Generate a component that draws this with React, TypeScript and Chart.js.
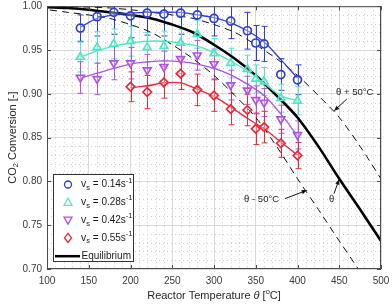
import React, { useEffect, useRef } from "react";
import { Chart, registerables } from "chart.js";

Chart.register(...registerables);

// ---- data ----
const temps = [140, 160, 180, 200, 220, 240, 260, 280, 300, 320, 340, 350, 360, 380, 400];
const conv014 = [0.975, 0.988, 0.993, 0.989, 0.992, 0.991, 0.992, 0.99, 0.986, 0.983, 0.972, 0.958, 0.957, 0.922, 0.916];
const err014 = [0.015, 0.022, 0.025, 0.025, 0.025, 0.025, 0.024, 0.022, 0.02, 0.02, 0.021, 0.02, 0.02, 0.018, 0.017];
const conv028 = [0.942, 0.953, 0.957, 0.96, 0.953, 0.9545, 0.958, 0.968, 0.946, 0.935, 0.928, 0.917, 0.914, 0.895, 0.892];
const err028 = [0.017, 0.018, 0.017, 0.017, 0.017, 0.017, 0.016, 0.016, 0.017, 0.017, 0.016, 0.016, 0.016, 0.016, 0.016];
const conv042 = [0.9186, 0.917, 0.935, 0.935, 0.927, 0.9307, 0.94, 0.944, 0.934, 0.91, 0.904, 0.893, 0.89, 0.871, 0.853];
const err042 = [0.018, 0.018, 0.019, 0.018, 0.018, 0.018, 0.017, 0.017, 0.017, 0.017, 0.016, 0.016, 0.016, 0.016, 0.016];
const tempsRed = [200, 220, 240, 260, 280, 300, 320, 340, 350, 360, 380, 400];
const conv055 = [0.908, 0.902, 0.913, 0.923, 0.9045, 0.898, 0.8826, 0.8815, 0.86, 0.862, 0.8435, 0.8295];
const err055 = [0.017, 0.019, 0.018, 0.018, 0.018, 0.018, 0.018, 0.018, 0.018, 0.018, 0.016, 0.015];

const fitTemps = [140, 160, 180, 200, 220, 240, 260, 280, 300, 320, 340, 360, 380, 400];
const fit014 = [0.976, 0.986, 0.99, 0.992, 0.993, 0.993, 0.993, 0.99, 0.987, 0.981, 0.972, 0.959, 0.939, 0.918];
const fit028 = [0.942, 0.949, 0.9545, 0.958, 0.96, 0.96, 0.958, 0.9545, 0.947, 0.9375, 0.926, 0.912, 0.898, 0.892];
const fit042 = [0.918, 0.9235, 0.929, 0.934, 0.9364, 0.9375, 0.9367, 0.934, 0.929, 0.9216, 0.911, 0.898, 0.877, 0.852];
const fitTempsRed = [200, 220, 240, 260, 280, 300, 320, 340, 360, 380, 400];
const fit055 = [0.907, 0.909, 0.9125, 0.9125, 0.9053, 0.897, 0.885, 0.872, 0.86, 0.845, 0.83];

const eqTemps = [50, 75, 100, 125, 150, 175, 200, 225, 250, 275, 300, 325, 350, 375, 400, 425, 450, 475, 500, 525, 550];
const eqConv = [1.0, 0.9995, 0.999, 0.998, 0.996, 0.993, 0.99, 0.986, 0.979, 0.97, 0.956, 0.94, 0.921, 0.898, 0.873, 0.84, 0.803, 0.768, 0.732, 0.697, 0.662];
const thetaShift = 50;

const xTicks = [100, 150, 200, 250, 300, 350, 400, 450, 500];
const yTicks = [0.7, 0.75, 0.8, 0.85, 0.9, 0.95, 1];

const FONT = "'Liberation Sans', Arial, sans-serif";
const BLUE = "#2b3fd6";
const CYAN = "#4fe6c6";
const PURPLE = "#b052e6";
const RED = "#ec2838";

const pts = (xs: number[], ys: number[]) => xs.map((x, i) => ({ x, y: ys[i] }));

type Part = { t: string; size: number; dy?: number; italic?: boolean };
function richWidth(ctx: CanvasRenderingContext2D, parts: Part[]) {
  let w = 0;
  for (const p of parts) {
    ctx.font = `${p.italic ? "italic " : ""}${p.size}px ${FONT}`;
    w += ctx.measureText(p.t).width;
  }
  return w;
}
function drawRich(ctx: CanvasRenderingContext2D, parts: Part[], x: number, y: number) {
  let cx = x;
  ctx.textBaseline = "middle";
  ctx.textAlign = "left";
  for (const p of parts) {
    ctx.font = `${p.italic ? "italic " : ""}${p.size}px ${FONT}`;
    ctx.fillText(p.t, cx, y + (p.dy || 0));
    cx += ctx.measureText(p.t).width;
  }
}

const overlayPlugin = {
  id: "overlay",
  beforeDatasetsDraw(chart: any) {
    const { ctx, chartArea: a, scales } = chart;
    const x = scales.x, y = scales.y;
    ctx.save();
    // minor grid
    ctx.strokeStyle = "#cfcfcf";
    ctx.lineWidth = 1;
    ctx.setLineDash([1, 3]);
    for (let v = 100; v <= 500; v += 10) {
      if (v % 50 === 0) continue;
      const px = Math.round(x.getPixelForValue(v)) + 0.5;
      ctx.beginPath(); ctx.moveTo(px, a.top); ctx.lineTo(px, a.bottom); ctx.stroke();
    }
    for (let k = 70; k <= 100; k++) {
      if (k % 5 === 0) continue;
      const py = Math.round(y.getPixelForValue(k / 100)) + 0.5;
      ctx.beginPath(); ctx.moveTo(a.left, py); ctx.lineTo(a.right, py); ctx.stroke();
    }
    ctx.setLineDash([]);
    // error bars
    ctx.beginPath(); ctx.rect(a.left, a.top, a.right - a.left, a.bottom - a.top); ctx.clip();
    chart.data.datasets.forEach((ds: any) => {
      if (!ds.errors) return;
      ctx.strokeStyle = ds.errColor;
      ctx.lineWidth = 1;
      ds.data.forEach((p: any, j: number) => {
        const px = Math.round(x.getPixelForValue(p.x)) + 0.5;
        const yt = y.getPixelForValue(p.y + ds.errors[j]);
        const yb = y.getPixelForValue(p.y - ds.errors[j]);
        ctx.beginPath();
        ctx.moveTo(px, yt); ctx.lineTo(px, yb);
        ctx.moveTo(px - 3, yt); ctx.lineTo(px + 3, yt);
        ctx.moveTo(px - 3, yb); ctx.lineTo(px + 3, yb);
        ctx.stroke();
      });
    });
    ctx.restore();
  },
  afterDraw(chart: any) {
    const { ctx, chartArea: a, scales } = chart;
    const x = scales.x, y = scales.y;
    ctx.save();
    // axes box + inward ticks
    ctx.strokeStyle = "#4a4a4a";
    ctx.lineWidth = 1;
    ctx.strokeRect(a.left + 0.5, a.top + 0.5, a.right - a.left - 1, a.bottom - a.top - 1);
    ctx.beginPath();
    xTicks.forEach((v) => {
      const px = Math.round(x.getPixelForValue(v)) + 0.5;
      ctx.moveTo(px, a.bottom); ctx.lineTo(px, a.bottom - 4);
      ctx.moveTo(px, a.top); ctx.lineTo(px, a.top + 4);
    });
    yTicks.forEach((v) => {
      const py = Math.round(y.getPixelForValue(v)) + 0.5;
      ctx.moveTo(a.left, py); ctx.lineTo(a.left + 4, py);
      ctx.moveTo(a.right, py); ctx.lineTo(a.right - 4, py);
    });
    ctx.stroke();

    // axis titles
    ctx.fillStyle = "#262626";
    const xt: Part[] = [
      { t: "Reactor Temperature ", size: 11 },
      { t: "θ", size: 11, italic: true },
      { t: " [", size: 11 },
      { t: "o", size: 7.5, dy: -4 },
      { t: "C]", size: 11 },
    ];
    const cxm = (a.left + a.right) / 2;
    drawRich(ctx, xt, cxm - richWidth(ctx, xt) / 2, 296);
    const yt: Part[] = [
      { t: "CO", size: 11 },
      { t: "2", size: 7.5, dy: 3 },
      { t: " Conversion [-]", size: 11 },
    ];
    ctx.save();
    ctx.translate(12.5, (a.top + a.bottom) / 2);
    ctx.rotate(-Math.PI / 2);
    drawRich(ctx, yt, -richWidth(ctx, yt) / 2, 0);
    ctx.restore();

    // annotations
    const arrow = (x0: number, y0: number, x1: number, y1: number) => {
      const X0 = x.getPixelForValue(x0), Y0 = y.getPixelForValue(y0);
      const X1 = x.getPixelForValue(x1), Y1 = y.getPixelForValue(y1);
      ctx.strokeStyle = "#111"; ctx.fillStyle = "#111"; ctx.lineWidth = 1;
      ctx.beginPath(); ctx.moveTo(X0, Y0); ctx.lineTo(X1, Y1); ctx.stroke();
      const ang = Math.atan2(Y1 - Y0, X1 - X0);
      const L = 5, W = 2.2;
      ctx.beginPath();
      ctx.moveTo(X1, Y1);
      ctx.lineTo(X1 - L * Math.cos(ang) + W * Math.sin(ang), Y1 - L * Math.sin(ang) - W * Math.cos(ang));
      ctx.lineTo(X1 - L * Math.cos(ang) - W * Math.sin(ang), Y1 - L * Math.sin(ang) + W * Math.cos(ang));
      ctx.closePath(); ctx.fill();
    };
    const label = (s: string, xv: number, yv: number) => {
      ctx.fillStyle = "#222";
      ctx.font = `9.5px ${FONT}`;
      ctx.textAlign = "center"; ctx.textBaseline = "middle";
      ctx.fillText(s, x.getPixelForValue(xv), y.getPixelForValue(yv));
    };
    label("θ + 50°C", 468.5, 0.9015);
    arrow(459, 0.894, 444, 0.8807);
    label("θ - 50°C", 357, 0.779);
    arrow(385, 0.7803, 411, 0.7898);
    label("θ", 441, 0.779);
    arrow(443.7, 0.786, 449.7, 0.802);

    // legend
    const lx = a.left + 6, ly = 174, lw = 80, lh = 87;
    ctx.fillStyle = "#fff";
    ctx.fillRect(lx, ly, lw, lh);
    ctx.strokeStyle = "#333"; ctx.lineWidth = 1;
    ctx.strokeRect(lx + 0.5, ly + 0.5, lw, lh);
    const entries = [
      { c: BLUE, shape: "circle", v: "0.14" },
      { c: CYAN, shape: "tri", v: "0.28" },
      { c: PURPLE, shape: "tridown", v: "0.42" },
      { c: RED, shape: "diamond", v: "0.55" },
    ];
    const rowH = 17.8;
    entries.forEach((e, i) => {
      const ry = ly + 10.5 + i * rowH;
      const mx = lx + 15;
      ctx.strokeStyle = e.c; ctx.lineWidth = 1.3;
      ctx.beginPath();
      if (e.shape === "circle") ctx.arc(mx, ry, 3.5, 0, Math.PI * 2);
      else if (e.shape === "tri") { ctx.moveTo(mx, ry - 4); ctx.lineTo(mx + 4, ry + 3); ctx.lineTo(mx - 4, ry + 3); ctx.closePath(); }
      else if (e.shape === "tridown") { ctx.moveTo(mx, ry + 4); ctx.lineTo(mx + 4, ry - 3); ctx.lineTo(mx - 4, ry - 3); ctx.closePath(); }
      else { ctx.moveTo(mx, ry - 4.5); ctx.lineTo(mx + 3.5, ry); ctx.lineTo(mx, ry + 4.5); ctx.lineTo(mx - 3.5, ry); ctx.closePath(); }
      ctx.stroke();
      ctx.fillStyle = "#1a1a1a";
      drawRich(ctx, [
        { t: "v", size: 10.5 },
        { t: "s", size: 7.5, dy: 3.5 },
        { t: " = " + e.v + "s", size: 10 },
        { t: "-1", size: 7.5, dy: -4 },
      ], lx + 28, ry);
    });
    const ey = ly + 10.5 + 4 * rowH + 0.5;
    ctx.strokeStyle = "#000"; ctx.lineWidth = 2.5;
    ctx.beginPath(); ctx.moveTo(lx + 2, ey); ctx.lineTo(lx + 27, ey); ctx.stroke();
    ctx.fillStyle = "#1a1a1a";
    drawRich(ctx, [{ t: "Equilibrium", size: 10 }], lx + 28.5, ey);
    ctx.restore();
  },
};

export default function App() {
  const ref = useRef<HTMLCanvasElement | null>(null);
  useEffect(() => {
    document.body.style.margin = "0";
    const canvas = ref.current;
    if (!canvas) return;
    const marker = (label: string, xs: number[], ys: number[], errs: number[], color: string, style: string, rot = 0, r = 4) => ({
      label,
      data: pts(xs, ys),
      showLine: false,
      borderColor: color,
      backgroundColor: "rgba(255,255,255,0.35)",
      pointStyle: style,
      pointRotation: rot,
      pointRadius: r,
      pointBorderWidth: 1.7,
      errors: errs,
      errColor: color,
      order: 1,
    });
    const fit = (xs: number[], ys: number[], color: string) => ({
      data: pts(xs, ys),
      borderColor: color,
      borderWidth: 1.3,
      pointRadius: 0,
      tension: 0.35,
      fill: false,
      order: 2,
    });
    const chart = new Chart(canvas, {
      type: "line",
      data: {
        datasets: [
          marker("vs = 0.14", temps, conv014, err014, BLUE, "circle"),
          marker("vs = 0.28", temps, conv028, err028, CYAN, "triangle", 0, 4.5),
          marker("vs = 0.42", temps, conv042, err042, PURPLE, "triangle", 180, 4.5),
          marker("vs = 0.55", tempsRed, conv055, err055, RED, "rectRot", 0, 4.3),
          fit(fitTemps, fit014, BLUE),
          fit(fitTemps, fit028, CYAN),
          fit(fitTemps, fit042, PURPLE),
          fit(fitTempsRed, fit055, RED),
          {
            label: "θ + 50°C",
            data: pts(eqTemps.map((t) => t + thetaShift), eqConv),
            borderColor: "#111", borderWidth: 1, borderDash: [7, 5], pointRadius: 0, tension: 0.3, order: 3,
          },
          {
            label: "θ - 50°C",
            data: pts(eqTemps.map((t) => t - thetaShift), eqConv),
            borderColor: "#111", borderWidth: 1, borderDash: [7, 5], pointRadius: 0, tension: 0.3, order: 3,
          },
          {
            label: "Equilibrium",
            data: pts(eqTemps, eqConv),
            borderColor: "#000", borderWidth: 2.6, pointRadius: 0, tension: 0.3, order: 3,
          },
        ] as any,
      },
      options: {
        animation: false,
        responsive: false,
        maintainAspectRatio: false,
        layout: { padding: { top: 5, right: 11, left: 0, bottom: 0 } },
        plugins: { legend: { display: false }, tooltip: { enabled: false } },
        scales: {
          x: {
            type: "linear", min: 100, max: 500,
            ticks: { stepSize: 50, padding: 6, color: "#3a3a3a", font: { family: FONT, size: 10 } },
            grid: { color: "#dadada", drawTicks: false },
            border: { display: false },
            afterFit: (s: any) => { s.height = 37; s.paddingLeft = 0; s.paddingRight = 0; },
          },
          y: {
            type: "linear", min: 0.7, max: 1,
            ticks: { stepSize: 0.05, padding: 5, color: "#3a3a3a", font: { family: FONT, size: 10 } },
            grid: { color: "#dadada", drawTicks: false },
            border: { display: false },
            afterFit: (s: any) => { s.width = 47; s.paddingTop = 0; s.paddingBottom = 0; },
          },
        },
      } as any,
      plugins: [overlayPlugin],
    });
    return () => chart.destroy();
  }, []);
  return <canvas ref={ref} width={392} height={306} style={{ display: "block", width: 392, height: 306 }} />;
}
